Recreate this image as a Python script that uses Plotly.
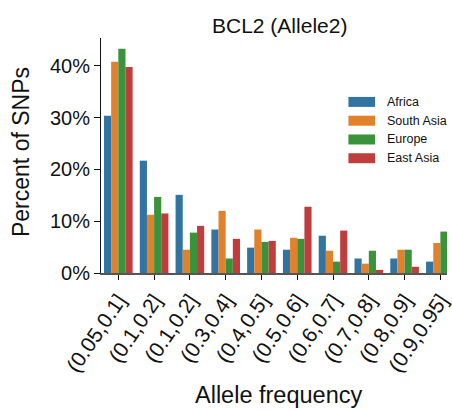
import plotly.graph_objects as go

categories = ["(0.05,0.1]", "(0.1,0.2]", "(0.1,0.2]", "(0.3,0.4]", "(0.4,0.5]",
              "(0.5,0.6]", "(0.6,0.7]", "(0.7,0.8]", "(0.8,0.9]", "(0.9,0.95]"]
series_names = ["Africa", "South Asia", "Europe", "East Asia"]
africa = [30.4, 21.7, 15.1, 8.4, 4.9, 4.5, 7.2, 2.8, 2.8, 2.2]
south_asia = [40.8, 11.25, 4.5, 12.0, 8.4, 6.8, 4.3, 1.8, 4.5, 5.8]
europe = [43.3, 14.7, 7.8, 2.8, 6.0, 6.6, 2.2, 4.3, 4.5, 8.0]
east_asia = [39.8, 11.5, 9.1, 6.6, 6.2, 12.8, 8.2, 0.6, 1.2, None]
y_ticks = [0, 10, 20, 30, 40]
y_tick_labels = ["0%", "10%", "20%", "30%", "40%"]
colors = ["#3274a1", "#e1812c", "#3a923a", "#c03d3e"]

W, H = 452, 410
ML, MR, MT = 101, 0, 38
MB = H - 273.3
PW, PH = W - ML - MR, H - MT - MB
FONT = "Liberation Sans, Arial, Helvetica, sans-serif"


def px(x):
    return (x - ML) / PW


def py(y):
    return (H - MB - y) / PH


xs = list(range(len(categories)))
fig = go.Figure()
for name, vals, c in zip(series_names, [africa, south_asia, europe, east_asia], colors):
    fig.add_trace(go.Bar(x=xs, y=vals, name=name, marker=dict(color=c, line=dict(width=0)),
                         showlegend=False, hoverinfo="skip"))

# manual legend
shapes = []
annotations = []
for i, (name, c) in enumerate(zip(series_names, colors)):
    yc = 102 + i * 18.8
    shapes.append(dict(type="rect", xref="paper", yref="paper",
                       x0=px(352), x1=px(379), y0=py(yc - 5), y1=py(yc + 5),
                       fillcolor=c, line=dict(width=0)))
    annotations.append(dict(text=name, xref="paper", yref="paper", x=px(389), y=py(yc),
                            xanchor="left", yanchor="middle", showarrow=False,
                            font=dict(size=12.5, color="#111", family=FONT)))

annotations.append(dict(text="BCL2 (Allele2)", xref="paper", yref="paper", x=px(282), y=py(25),
                        xanchor="center", yanchor="middle", showarrow=False,
                        font=dict(size=21, color="#111", family=FONT)))
annotations.append(dict(text="Percent of SNPs", xref="paper", yref="paper", x=px(20), y=py(152),
                        xanchor="center", yanchor="middle", showarrow=False, textangle=-90,
                        font=dict(size=23, color="#111", family=FONT)))
annotations.append(dict(text="Allele frequency", xref="paper", yref="paper", x=px(281), y=py(395),
                        xanchor="center", yanchor="middle", showarrow=False,
                        font=dict(size=23.5, color="#111", family=FONT)))

fig.update_layout(
    width=W, height=H,
    margin=dict(l=ML, r=MR, t=MT, b=MB),
    paper_bgcolor="white", plot_bgcolor="white",
    barmode="group", bargap=0.2, bargroupgap=0,
    shapes=shapes, annotations=annotations,
    showlegend=False,
    font=dict(family=FONT, color="#111"),
)
fig.update_xaxes(range=[-0.484, 9.185], tickvals=xs, ticktext=categories, tickangle=-56,
                 ticklabeloverflow="allow",
                 showgrid=False, zeroline=False, showline=True, linecolor="#555", linewidth=1.5,
                 ticks="outside", ticklen=5, tickcolor="#111", tickwidth=1,
                 tickfont=dict(size=21, family=FONT, color="#111"))
fig.update_yaxes(range=[0, 45.4], tickvals=y_ticks, ticktext=y_tick_labels,
                 showgrid=False, zeroline=False, showline=True, linecolor="#111", linewidth=1,
                 ticks="outside", ticklen=6, tickcolor="#111", tickwidth=1,
                 tickfont=dict(size=20, family=FONT, color="#111"))
fig.write_html("out.html", config={"displayModeBar": False},
               post_script="document.body.style.margin='0';"
                           "document.documentElement.style.overflow='hidden';"
                           "document.body.style.overflow='hidden';")
